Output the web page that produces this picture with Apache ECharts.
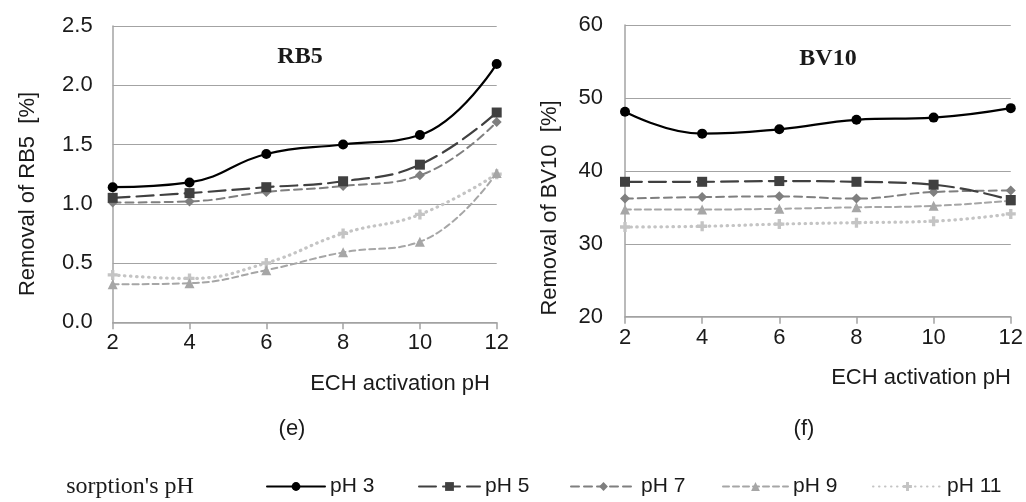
<!DOCTYPE html>
<html>
<head>
<meta charset="utf-8">
<script src="https://cdn.jsdelivr.net/npm/echarts@6/dist/echarts.min.js"></script>
<style>
  html, body { margin: 0; padding: 0; background: #fff; }
  #chart { width: 1026px; height: 502px; }
</style>
</head>
<body>
<div id="chart"></div>
<script>
// ECH activation pH (x axis)
const activationPH = [2, 4, 6, 8, 10, 12];
const seriesNames = ['pH 3', 'pH 5', 'pH 7', 'pH 9', 'pH 11'];

// Removal of RB5 [%] per sorption pH
const rb5_pH3  = [1.14, 1.18, 1.42, 1.50, 1.58, 2.18];
const rb5_pH5  = [1.05, 1.09, 1.14, 1.19, 1.33, 1.77];
const rb5_pH7  = [1.01, 1.02, 1.10, 1.15, 1.24, 1.69];
const rb5_pH9  = [0.32, 0.33, 0.44, 0.59, 0.68, 1.26];
const rb5_pH11 = [0.40, 0.37, 0.50, 0.75, 0.91, 1.25];

// Removal of BV10 [%] per sorption pH
const bv10_pH3  = [48.1, 45.1, 45.7, 47.0, 47.3, 48.6];
const bv10_pH5  = [38.5, 38.5, 38.6, 38.5, 38.1, 36.0];
const bv10_pH7  = [36.2, 36.4, 36.5, 36.2, 37.1, 37.3];
const bv10_pH9  = [34.7, 34.7, 34.8, 35.0, 35.2, 35.9];
const bv10_pH11 = [32.3, 32.4, 32.7, 32.9, 33.1, 34.1];

const rb5Data = [rb5_pH3, rb5_pH5, rb5_pH7, rb5_pH9, rb5_pH11];
const bv10Data = [bv10_pH3, bv10_pH5, bv10_pH7, bv10_pH9, bv10_pH11];

const SANS = "'Liberation Sans', Arial, sans-serif";
const SERIF = "'Liberation Serif', 'Times New Roman', serif";
const TEXT = '#1a1a1a';
const GRID_LINE = '#a3a3a3';

const plusPath = 'path://M2,0 H4 V2 H6 V4 H4 V6 H2 V4 H0 V2 H2 Z';

// visual style of each sorption pH line
const styles = [
  { color: '#000000', type: 'solid',   width: 2.2, symbol: 'circle',   size: 10 },
  { color: '#404040', type: [17, 7],   width: 2.2, symbol: 'rect',     size: 10 },
  { color: '#7f7f7f', type: [8, 5],    width: 2,   symbol: 'diamond',  size: 10 },
  { color: '#a6a6a6', type: [6, 4],    width: 2,   symbol: 'triangle', size: 10 },
  { color: '#c4c4c4', type: [0.5, 5.5], width: 3.2, symbol: plusPath,  size: 10 }
];

function buildSeries(dataSets, axisIndex) {
  return dataSets.map((vals, i) => ({
    name: seriesNames[i],
    type: 'line',
    xAxisIndex: axisIndex,
    yAxisIndex: axisIndex,
    data: activationPH.map((x, k) => [x, vals[k]]),
    smooth: 0.45,
    symbol: styles[i].symbol,
    symbolSize: styles[i].size,
    lineStyle: { color: styles[i].color, width: styles[i].width, type: styles[i].type, cap: 'round' },
    itemStyle: { color: styles[i].color },
    z: 10 - i,
    animation: false
  }));
}

function xAxisDef(gridIndex) {
  return {
    type: 'value', gridIndex, min: 2, max: 12, interval: 2,
    axisLine: { show: true, lineStyle: { color: GRID_LINE, width: 1.5 } },
    axisTick: { show: true, inside: false, length: 7, lineStyle: { color: GRID_LINE, width: 1.5 } },
    splitLine: { show: false },
    axisLabel: { color: TEXT, fontFamily: SANS, fontSize: 22, margin: 10 }
  };
}

function yAxisDef(gridIndex, min, max, interval, decimals, margin) {
  return {
    type: 'value', gridIndex, min, max, interval,
    axisLine: { show: true, lineStyle: { color: GRID_LINE, width: 1.5 } },
    axisTick: { show: false },
    splitLine: { show: true, lineStyle: { color: GRID_LINE, width: 1.2 } },
    axisLabel: {
      color: TEXT, fontFamily: SANS, fontSize: 22, margin,
      formatter: v => v.toFixed(decimals)
    }
  };
}

function label(text, x, y, font, rotation) {
  return {
    type: 'text', x, y, rotation: rotation || 0, silent: true,
    style: {
      text, font, fill: TEXT,
      align: 'center', verticalAlign: 'middle',
      textAlign: 'center', textVerticalAlign: 'middle'
    }
  };
}

// one legend block per series so each entry sits at its own place
const legendLineStart = [266, 418, 570, 722, 872];
const legendTextStart = [329, 484, 640, 792, 946];
const legends = seriesNames.map((name, i) => ({
  data: [name],
  left: legendLineStart[i],
  top: 476,
  padding: 0,
  itemWidth: legendTextStart[i] - 5 - legendLineStart[i],
  itemHeight: 11,
  itemGap: 0,
  selectedMode: false,
  textStyle: { color: TEXT, fontFamily: SANS, fontSize: 21 }
}));

const option = {
  backgroundColor: '#ffffff',
  animation: false,
  grid: [
    { left: 112.7, top: 26, width: 384, height: 296.3 },
    { left: 625, top: 25, width: 386, height: 291.7 }
  ],
  xAxis: [xAxisDef(0), xAxisDef(1)],
  yAxis: [
    yAxisDef(0, 0, 2.5, 0.5, 1, 20),
    yAxisDef(1, 20, 60, 10, 0, 22)
  ],
  legend: legends,
  series: [...buildSeries(rb5Data, 0), ...buildSeries(bv10Data, 1)],
  graphic: [
    label('RB5', 300, 57, 'bold 24px ' + SERIF),
    label('BV10', 828, 59, 'bold 24px ' + SERIF),
    label('Removal of RB5  [%]', 28, 194, '22px ' + SANS, Math.PI / 2),
    label('Removal of BV10  [%]', 550, 208, '22px ' + SANS, Math.PI / 2),
    label('ECH activation pH', 400, 384, '22px ' + SANS),
    label('ECH activation pH', 921, 378, '22px ' + SANS),
    label('(e)', 292, 429, '22px ' + SANS),
    label('(f)', 804, 429, '22px ' + SANS),
    label("sorption's pH", 130, 487, '24px ' + SERIF)
  ]
};

const chart = echarts.init(document.getElementById('chart'), null, { renderer: 'canvas' });
chart.setOption(option);
</script>
</body>
</html>
